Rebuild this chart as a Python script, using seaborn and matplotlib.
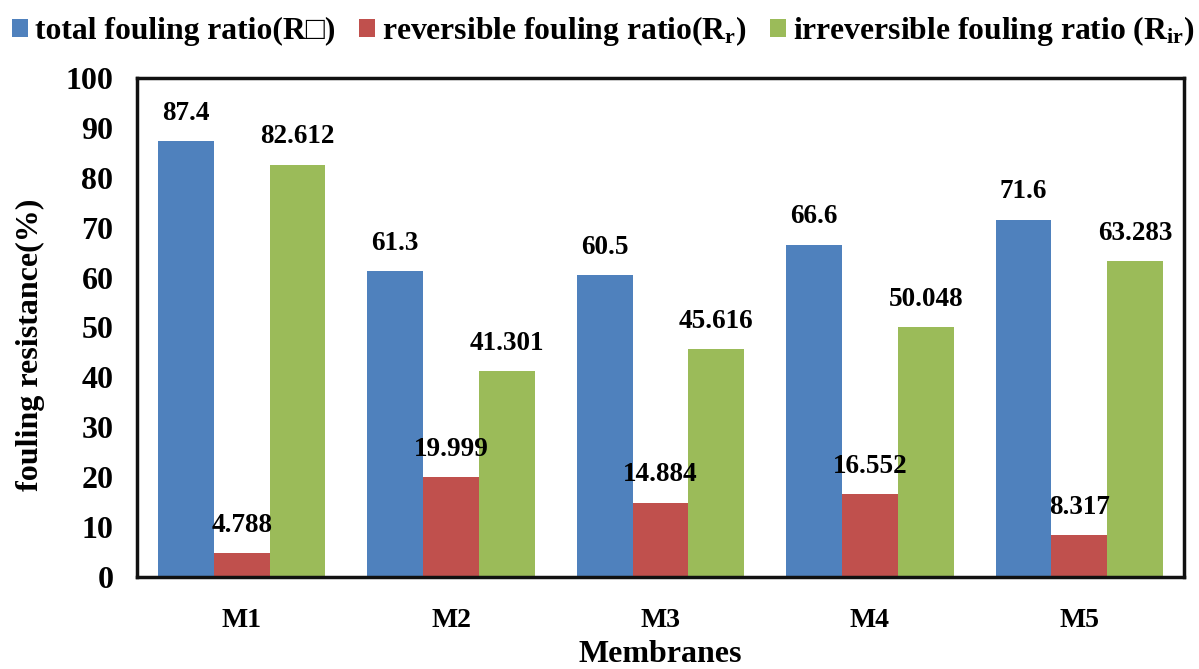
import matplotlib
matplotlib.use("Agg")
import matplotlib.pyplot as plt
import seaborn as sns
import pandas as pd

membranes = ["M1", "M2", "M3", "M4", "M5"]
total_ratio = [87.4, 61.3, 60.5, 66.6, 71.6]
reversible_ratio = [4.788, 19.999, 14.884, 16.552, 8.317]
irreversible_ratio = [82.612, 41.301, 45.616, 50.048, 63.283]
series_names = [
    "total fouling ratio(R\u25a1)",
    r"reversible fouling ratio($\mathbf{R_r}$)",
    r"irreversible fouling ratio ($\mathbf{R_{ir}}$)",
]
value_labels = [
    ["87.4", "61.3", "60.5", "66.6", "71.6"],
    ["4.788", "19.999", "14.884", "16.552", "8.317"],
    ["82.612", "41.301", "45.616", "50.048", "63.283"],
]
colors = ["#4F81BD", "#C0504D", "#9BBB59"]

sns.set_style("white")
plt.rcParams["font.family"] = ["Liberation Serif", "DejaVu Serif"]
plt.rcParams["font.weight"] = "bold"
plt.rcParams["text.color"] = "black"
plt.rcParams["axes.labelcolor"] = "black"
plt.rcParams["xtick.color"] = "black"
plt.rcParams["ytick.color"] = "black"
plt.rcParams["mathtext.fontset"] = "custom"
plt.rcParams["mathtext.rm"] = "Liberation Serif:bold"
plt.rcParams["mathtext.bf"] = "Liberation Serif:bold"
plt.rcParams["mathtext.it"] = "Liberation Serif:bold"

rows = []
for name, vals in zip(series_names, [total_ratio, reversible_ratio, irreversible_ratio]):
    for m, v in zip(membranes, vals):
        rows.append({"Membranes": m, "value": v, "series": name})
df = pd.DataFrame(rows)

fig = plt.figure(figsize=(11.99, 6.69), dpi=100)
ax = fig.add_axes([137 / 1199, 92 / 669, (1184 - 137) / 1199, (577 - 78) / 669])

sns.barplot(data=df, x="Membranes", y="value", hue="series", palette=colors,
            hue_order=series_names, order=membranes, width=0.8, ax=ax,
            saturation=1, edgecolor="none", errorbar=None, legend=True)

for cont, labs in zip(ax.containers, value_labels):
    ax.bar_label(cont, labels=labs, padding=11, fontsize=19.5, fontweight="bold",
                 color="black")

ax.set_ylim(0, 100)
ax.set_yticks(range(0, 101, 10))
ax.set_xlim(-0.5, 4.5)
ax.set_xticks([i - 0.5 for i in range(6)], minor=False)
ax.set_xticklabels([])
ax.set_xticks(range(5), minor=True)
ax.set_xticklabels(membranes, minor=True)
ax.tick_params(axis="x", which="major", direction="out", length=7, width=2.5)
ax.tick_params(axis="x", which="minor", length=0, pad=22, labelsize=20)
ax.tick_params(axis="y", direction="out", length=8, width=2.5, labelsize=23, pad=9)
for lab in ax.get_xticklabels(minor=True) + ax.get_yticklabels():
    lab.set_fontweight("bold")

for sp in ax.spines.values():
    sp.set_visible(True)
    sp.set_linewidth(2.5)
    sp.set_color("#111111")

ax.set_xlabel("Membranes", fontsize=23, fontweight="bold", labelpad=5)
ax.set_ylabel("fouling resistance(%)", fontsize=23, fontweight="bold")
ax.yaxis.set_label_coords(-0.088, 0.465)

handles, labels = ax.get_legend_handles_labels()
ax.get_legend().remove()
fig.legend(handles, labels, loc="upper left", bbox_to_anchor=(12 / 1199, 1 - 14 / 669),
           ncol=3, frameon=False, handlelength=0.5, handleheight=0.5,
           handletextpad=0.22, columnspacing=0.75, borderaxespad=0, borderpad=0,
           prop={"weight": "bold", "size": 22.8})

fig.savefig("out.png", dpi=100)
